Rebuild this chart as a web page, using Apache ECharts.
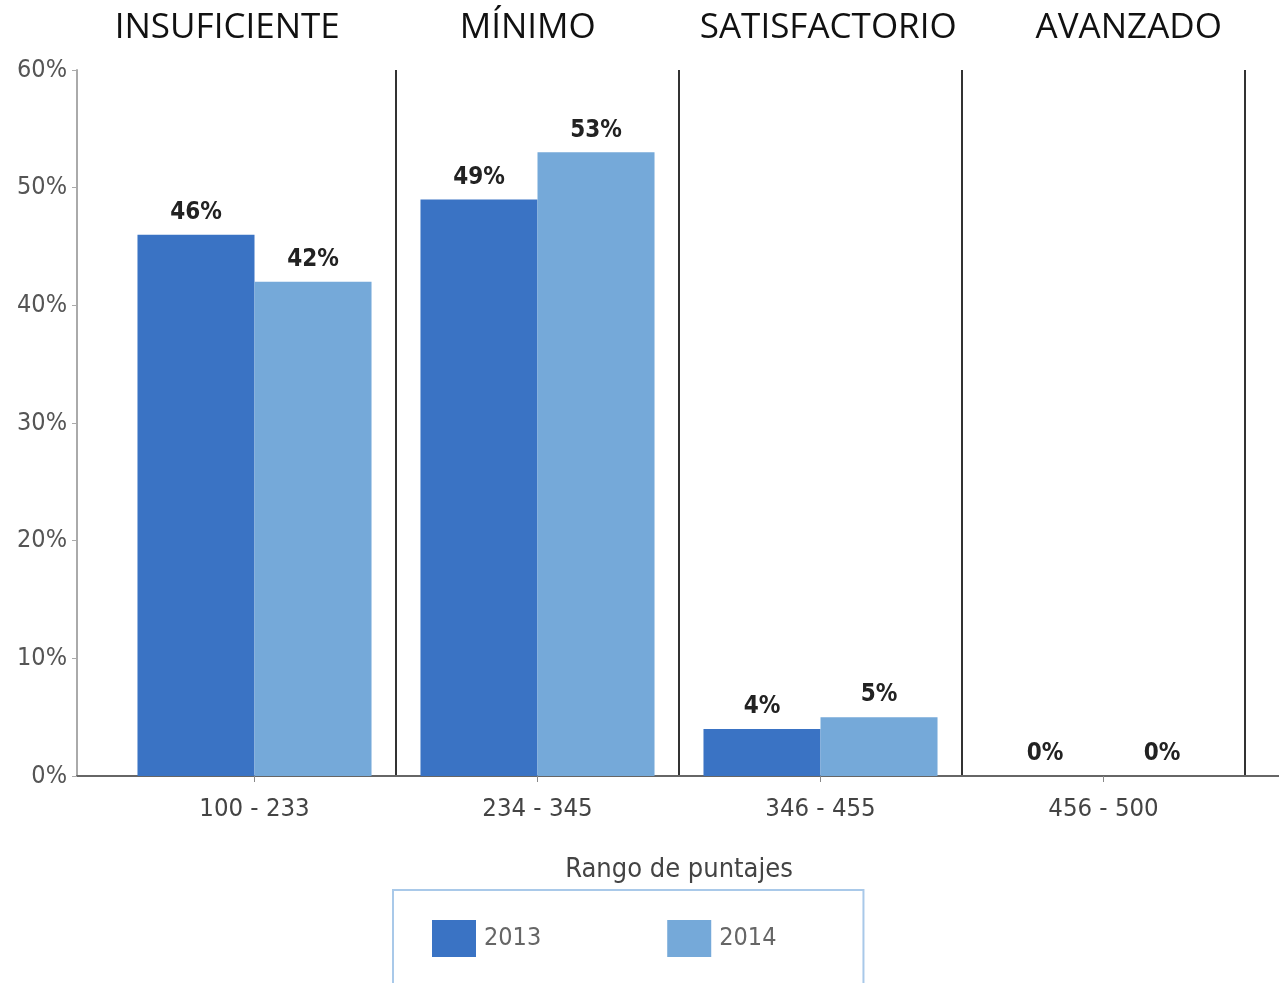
<!DOCTYPE html>
<html>
<head>
<meta charset="utf-8">
<script src="https://cdn.jsdelivr.net/npm/echarts@6/dist/echarts.min.js"></script>
<style>
html,body{margin:0;padding:0;background:#fff;}
#c{width:1279px;height:983px;}
</style>
</head>
<body>
<div id="c"></div>
<script>
const categories = ['100 - 233', '234 - 345', '346 - 455', '456 - 500'];
const levels = ['INSUFICIENTE', 'MÍNIMO', 'SATISFACTORIO', 'AVANZADO'];
const seriesNames = ['2013', '2014'];
const values2013 = [46, 49, 4, 0];
const values2014 = [42, 53, 5, 0];
const yTicks = [0, 10, 20, 30, 40, 50, 60];

const NARROW = '"Liberation Sans Narrow", "DejaVu Sans Condensed", "Open Sans", sans-serif';
const chart = echarts.init(document.getElementById('c'), null, {renderer: 'canvas'});

const colors = ['#3a73c4', '#75a9d9'];

chart.setOption({
  animation: false,
  backgroundColor: '#fff',
  grid: [
    {left: 113, right: 34, top: 70, bottom: 207},
    {left: 77, right: 0, top: 70, bottom: 207}
  ],
  legend: {
    data: seriesNames,
    left: 393, top: 890,
    orient: 'horizontal',
    itemWidth: 44, itemHeight: 37, itemGap: 126,
    padding: [30, 87, 30, 39],
    borderColor: '#a9c9e9', borderWidth: 2,
    icon: 'rect',
    textStyle: {fontFamily: NARROW, fontSize: 25, color: '#666', padding: [0, 0, 0, 3]}
  },
  xAxis: [
    {
      type: 'category', gridIndex: 0, data: categories, position: 'bottom',
      axisLine: {show: false},
      axisTick: {show: true, alignWithLabel: true, length: 6, lineStyle: {color: '#888'}},
      axisLabel: {fontFamily: NARROW, fontSize: 25.5, color: '#444', margin: 20, interval: 0},
      splitLine: {show: true, interval: function (i) { return i !== 0; }, lineStyle: {color: '#333', width: 2}},
      name: 'Rango de puntajes', nameLocation: 'middle', nameGap: 80,
      nameTextStyle: {fontFamily: NARROW, fontSize: 27, color: '#444'}
    },
    {
      type: 'category', gridIndex: 1, data: categories, position: 'bottom',
      axisLine: {show: true, lineStyle: {color: '#666', width: 2}},
      axisTick: {show: false}, axisLabel: {show: false}, splitLine: {show: false}
    },
    {
      type: 'category', gridIndex: 1, data: levels, position: 'top',
      axisLine: {show: false}, axisTick: {show: false},
      axisLabel: {fontFamily: '"Open Sans", sans-serif', fontSize: 35, color: '#111', margin: 24,
        interval: 0, hideOverlap: false},
      splitLine: {show: false}
    }
  ],
  yAxis: [
    {
      type: 'value', gridIndex: 0, min: 0, max: 60, interval: 10,
      axisLine: {show: false}, axisTick: {show: false}, axisLabel: {show: false}, splitLine: {show: false}
    },
    {
      type: 'value', gridIndex: 1, min: 0, max: 60, interval: 10,
      axisLine: {show: true, lineStyle: {color: '#aaa', width: 2}},
      axisTick: {show: true, length: 5, lineStyle: {color: '#aaa'}},
      axisLabel: {fontFamily: NARROW, fontSize: 25, color: '#555', margin: 10,
        formatter: function (v) { return yTicks.indexOf(v) >= 0 ? v + '%' : ''; }},
      splitLine: {show: false}
    }
  ],
  series: [
    {
      name: seriesNames[0], type: 'bar', xAxisIndex: 0, yAxisIndex: 0,
      data: values2013, barGap: '0%', barCategoryGap: '17.3%',
      itemStyle: {color: colors[0]},
      label: {show: true, position: 'top', distance: 10, formatter: '{c}%',
        fontFamily: NARROW, fontWeight: 'bold', fontSize: 24, color: '#222'}
    },
    {
      name: seriesNames[1], type: 'bar', xAxisIndex: 0, yAxisIndex: 0,
      data: values2014, barGap: '0%', barCategoryGap: '17.3%',
      itemStyle: {color: colors[1]},
      label: {show: true, position: 'top', distance: 10, formatter: '{c}%',
        fontFamily: NARROW, fontWeight: 'bold', fontSize: 24, color: '#222'}
    }
  ]
});
</script>
</body>
</html>
